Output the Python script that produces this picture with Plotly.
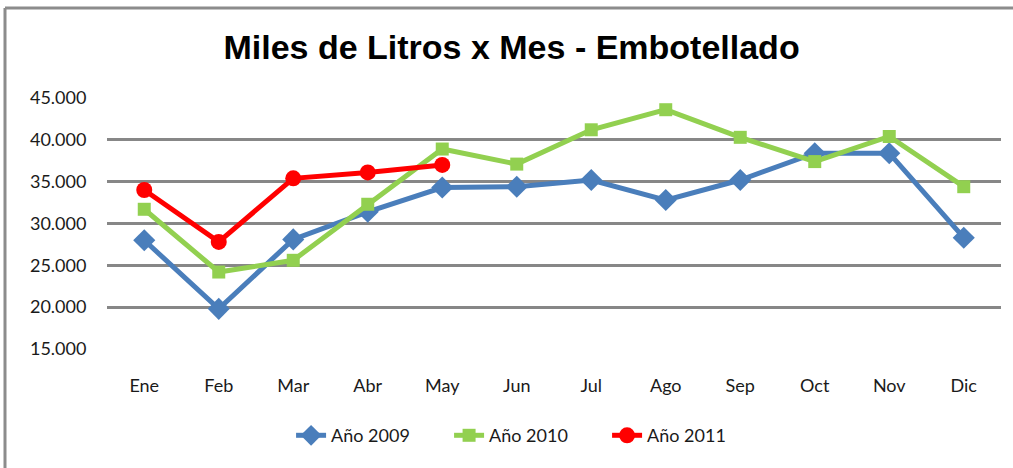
import plotly.graph_objects as go

meses = ["Ene", "Feb", "Mar", "Abr", "May", "Jun", "Jul", "Ago", "Sep", "Oct", "Nov", "Dic"]
anio_2009 = [28000, 19800, 28100, 31400, 34300, 34400, 35200, 32800, 35200, 38400, 38400, 28300]
anio_2010 = [31700, 24200, 25600, 32300, 38900, 37100, 41200, 43600, 40300, 37400, 40400, 34400]
anio_2011 = [34000, 27800, 35400, 36100, 37000]
meses_2011 = meses[:5]

fig = go.Figure()
fig.add_trace(go.Scatter(x=meses, y=anio_2009, name="Año 2009", mode="lines+markers",
                         line=dict(color="#4A7EBB", width=5),
                         marker=dict(symbol="diamond", size=17, color="#4A7EBB")))
fig.add_trace(go.Scatter(x=meses, y=anio_2010, name="Año 2010", mode="lines+markers",
                         line=dict(color="#92D050", width=5),
                         marker=dict(symbol="square", size=13, color="#92D050")))
fig.add_trace(go.Scatter(x=meses_2011, y=anio_2011, name="Año 2011", mode="lines+markers",
                         line=dict(color="#FF0000", width=5),
                         marker=dict(symbol="circle", size=16, color="#FF0000")))

fig.update_layout(
    width=1013, height=468,
    margin=dict(l=107, r=12, t=98, b=119),
    paper_bgcolor="white", plot_bgcolor="white",
    separators=",.",
    font=dict(family="Lato, Carlito, sans-serif", size=17, color="#1a1a1a"),
    title=dict(text="<b>Miles de Litros x Mes - Embotellado</b>",
               x=0.505, xanchor="center", y=0.9, yanchor="middle",
               font=dict(family="Liberation Sans Narrow, Arial Narrow, sans-serif", size=34, color="black")),
    showlegend=True,
    legend=dict(orientation="h", x=0.471, xanchor="center", y=-0.345, yanchor="middle",
                font=dict(size=18), entrywidth=113, entrywidthmode="pixels", tracegroupgap=0),
    xaxis=dict(type="category", range=[-0.5, 11.5], showgrid=False, zeroline=False,
               showline=False, ticks="outside", ticklen=20, tickcolor="rgba(0,0,0,0)",
               tickfont=dict(size=18)),
    yaxis=dict(range=[15000, 45000], dtick=5000, tickformat=",d", showgrid=True,
               gridcolor="#878787", gridwidth=2.5, zeroline=False, showline=False,
               ticks="outside", ticklen=16, tickcolor="rgba(0,0,0,0)",
               tickfont=dict(size=18)),
    shapes=[
        dict(type="line", xref="paper", yref="paper",
             x0=(5 - 107) / 894, x1=(1013 - 107) / 894,
             y0=(349 - 8) / 251, y1=(349 - 8) / 251,
             line=dict(color="#8c8c8c", width=3)),
        dict(type="line", xref="paper", yref="paper",
             x0=(5 - 107) / 894, x1=(5 - 107) / 894,
             y0=(349 - 8) / 251, y1=(349 - 470) / 251,
             line=dict(color="#8c8c8c", width=3)),
    ],
)

fig.write_html("out.html", config={"displayModeBar": False},
               post_script="document.body.style.margin='0';document.body.style.overflow='hidden';")
